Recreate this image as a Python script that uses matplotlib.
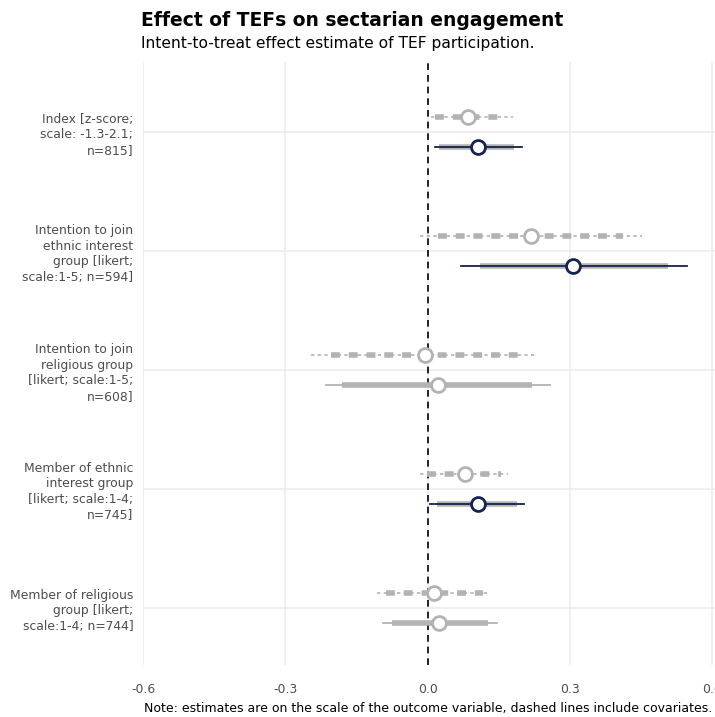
import numpy as np
import matplotlib.pyplot as plt

# outcomes, top to bottom
labels = ["Index [z-score;\nscale: -1.3-2.1;\nn=815]",
          "Intention to join\nethnic interest\ngroup [likert;\nscale:1-5; n=594]",
          "Intention to join\nreligious group\n[likert; scale:1-5;\nn=608]",
          "Member of ethnic\ninterest group\n[likert; scale:1-4;\nn=745]",
          "Member of religious\ngroup [likert;\nscale:1-4; n=744]"]

# without covariates (solid)
est = [0.106, 0.307, 0.021, 0.106, 0.025]
lo95 = [0.015, 0.071, -0.214, 0.006, -0.095]
hi95 = [0.199, 0.548, 0.258, 0.203, 0.146]
lo90 = [0.025, 0.110, -0.180, 0.019, -0.074]
hi90 = [0.183, 0.507, 0.220, 0.188, 0.127]

# with covariates (dashed)
est_c = [0.085, 0.218, -0.006, 0.078, 0.013]
lo95_c = [0.008, -0.017, -0.245, -0.017, -0.106]
hi95_c = [0.180, 0.452, 0.226, 0.169, 0.131]
lo90_c = [0.015, 0.021, -0.203, -0.002, -0.087]
hi90_c = [0.155, 0.412, 0.190, 0.155, 0.116]

navy = "#14234f"
grey = "#b3b3b3"

fig = plt.figure(figsize=(7.15, 7.17), dpi=100)
ax = fig.add_axes([0.2, 0.0725, 0.8, 0.841])

ypos = np.arange(len(labels))[::-1] + 1.0
off = 0.126

ax.axvline(0, color="black", ls=(0, (4, 3)), lw=1.2, zorder=2)

for i, y in enumerate(ypos):
    # covariate-adjusted estimate, always grey dashed
    yc = y + off
    ax.plot([lo95_c[i], hi95_c[i]], [yc, yc], color=grey, lw=1.2, ls=(0, (2, 2)), zorder=3)
    ax.plot([lo90_c[i], hi90_c[i]], [yc, yc], color=grey, lw=4, ls=(0, (1.6, 1.6)), zorder=3)
    ax.plot(est_c[i], yc, "o", ms=10, mfc="white", mec=grey, mew=2, zorder=5)

    # unadjusted estimate
    yn = y - off
    sig = lo95[i] > 0 or hi95[i] < 0
    col = navy if sig else grey
    ax.plot([lo90[i], hi90[i]], [yn, yn], color=grey, lw=4, solid_capstyle="butt", zorder=3)
    ax.plot([lo95[i], hi95[i]], [yn, yn], color=col, lw=1.3, zorder=4)
    ax.plot(est[i], yn, "o", ms=10, mfc="white", mec=col, mew=2, zorder=5)

ax.set_xlim(-0.6, 0.606)
ax.set_ylim(0.52, 5.59)
ax.set_xticks([-0.6, -0.3, 0.0, 0.3, 0.6])
ax.set_xticklabels(["-0.6", "-0.3", "0.0", "0.3", "0.6"])
ax.set_yticks(ypos)
ax.set_yticklabels(labels, linespacing=1.25)
ax.tick_params(length=0, labelsize=8.9, labelcolor="#4d4d4d")
ax.tick_params(axis="y", pad=7)
ax.tick_params(axis="x", pad=13)
ax.grid(True, color="#ebebeb", lw=1.1)
ax.set_axisbelow(True)
for s in ax.spines.values():
    s.set_visible(False)

fig.text(0.197, 0.972, "Effect of TEFs on sectarian engagement", fontsize=13.5,
         fontweight="bold", va="center")
fig.text(0.197, 0.939, "Intent-to-treat effect estimate of TEF participation.",
         fontsize=11.2, va="center")
fig.text(0.996, 0.003, "Note: estimates are on the scale of the outcome variable, dashed lines include covariates.",
         fontsize=9.0, ha="right", va="bottom")

fig.savefig("out.png", dpi=100)
